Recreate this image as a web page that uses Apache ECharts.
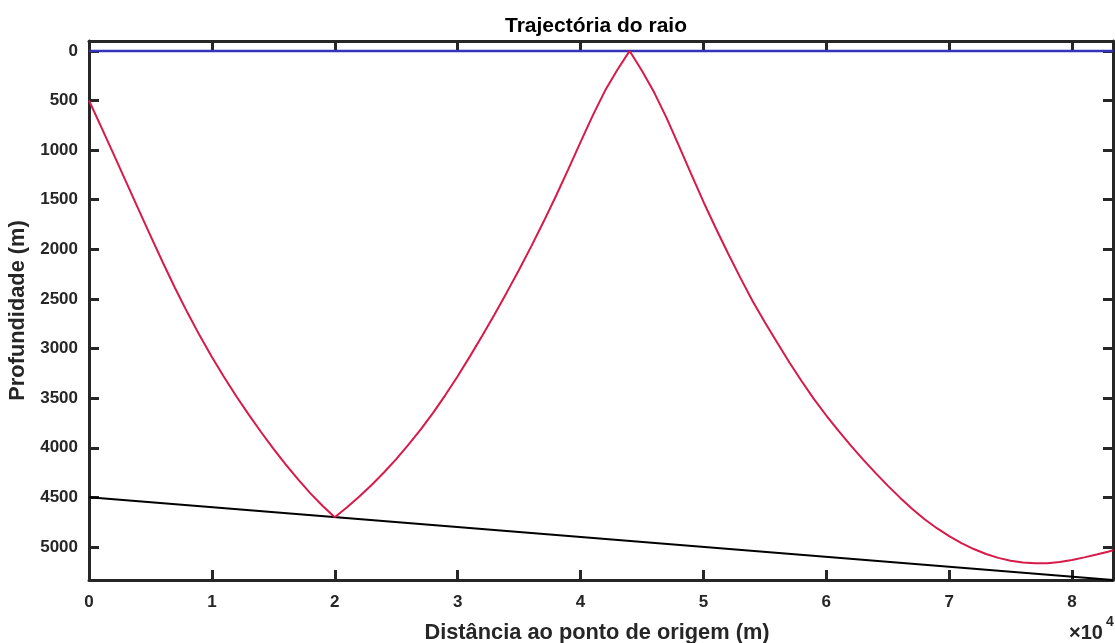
<!DOCTYPE html>
<html>
<head>
<meta charset="utf-8">
<title>Trajectória do raio</title>
<script src="https://cdn.jsdelivr.net/npm/echarts@6/dist/echarts.min.js"></script>
<style>
  html, body { margin: 0; padding: 0; background: #ffffff; }
  #chart { width: 1115px; height: 643px; }
</style>
</head>
<body>
<div id="chart"></div>
<script>
// Ray path, [range (m), depth (m)], one array per leg between reflections
const rayLeg1 = [
  [0, 500], [1000, 768], [2000, 1040], [3000, 1315], [4000, 1590], [5000, 1862],
  [6000, 2130], [7000, 2390], [8000, 2635], [9000, 2867], [10000, 3085],
  [11000, 3290], [12000, 3483], [13000, 3666], [14000, 3841], [15000, 4008],
  [16000, 4167], [17000, 4317], [18000, 4457], [19000, 4584], [20000, 4700]
];
const rayLeg2 = [
  [20000, 4700], [21000, 4600], [22000, 4492], [23000, 4375], [24000, 4249],
  [25000, 4114], [26000, 3969], [27000, 3814], [28000, 3649], [29000, 3469],
  [30000, 3279], [31000, 3079], [32000, 2871], [33000, 2656], [34000, 2434],
  [35000, 2206], [36000, 1968], [37000, 1720], [38000, 1462], [39000, 1194],
  [40000, 919], [41000, 650], [42000, 400], [43000, 190], [44000, 0]
];
const rayLeg3 = [
  [44000, 0], [45000, 200], [46000, 420], [47000, 675], [48000, 955],
  [49000, 1240], [50000, 1520], [51000, 1785], [52000, 2040], [53000, 2285],
  [54000, 2520], [55000, 2735], [56000, 2940], [57000, 3140], [58000, 3330],
  [59000, 3510], [60000, 3675], [61000, 3830], [62000, 3978], [63000, 4119],
  [64000, 4253], [65000, 4382], [66000, 4503], [67000, 4617], [68000, 4721],
  [69000, 4811], [70000, 4891], [71000, 4961], [72000, 5021], [73000, 5071],
  [74000, 5110], [75000, 5139], [76000, 5157], [77000, 5165], [78000, 5163],
  [79000, 5151], [80000, 5131], [81000, 5105], [82000, 5076], [83000, 5045],
  [83333, 5034]
];
// Sea surface and sloping bottom
const surfaceLine = [[0, 0], [83333, 0]];
const bottomLine = [[0, 4500], [83333, 5333]];

// Axis extents and tick values
const rangeMax = 83333;
const depthMin = -100;
const depthMax = 5333;
const rangeTicks = [0, 10000, 20000, 30000, 40000, 50000, 60000, 70000, 80000];
const depthTicks = [0, 500, 1000, 1500, 2000, 2500, 3000, 3500, 4000, 4500, 5000];

const axisColor = '#262626';
const fontFamily = '"Liberation Sans", Arial, Helvetica, sans-serif';

const chart = echarts.init(document.getElementById('chart'), null, { renderer: 'canvas' });

function xAxisDef(pos, showLabels) {
  return {
    type: 'value',
    position: pos,
    min: 0,
    max: rangeMax,
    splitLine: { show: false },
    axisLine: { show: true, onZero: false, lineStyle: { color: axisColor, width: 3 } },
    axisTick: { show: true, inside: true, length: 10, customValues: rangeTicks,
      lineStyle: { color: axisColor, width: 3 } },
    axisLabel: { show: showLabels, customValues: rangeTicks, margin: 14,
      formatter: v => String(v / 10000),
      color: axisColor, fontFamily, fontWeight: 'bold', fontSize: 17 },
    name: showLabels ? 'Distância ao ponto de origem (m)' : '',
    nameLocation: 'middle',
    nameGap: 42,
    nameTextStyle: { color: axisColor, fontFamily, fontWeight: 'bold', fontSize: 21.8,
      padding: [0, 8, 0, 0] }
  };
}

function yAxisDef(pos, showLabels) {
  return {
    type: 'value',
    position: pos,
    inverse: true,
    min: depthMin,
    max: depthMax,
    splitLine: { show: false },
    axisLine: { show: true, onZero: false, lineStyle: { color: axisColor, width: 3 } },
    axisTick: { show: true, inside: true, length: 10, customValues: depthTicks,
      lineStyle: { color: axisColor, width: 3 } },
    axisLabel: { show: showLabels, customValues: depthTicks, margin: 11,
      formatter: v => String(v),
      color: axisColor, fontFamily, fontWeight: 'bold', fontSize: 17 },
    name: showLabels ? 'Profundidade (m)' : '',
    nameLocation: 'middle',
    nameGap: 57,
    nameTextStyle: { color: axisColor, fontFamily, fontWeight: 'bold', fontSize: 21.8 }
  };
}

function lineSeries(data, color, width, z) {
  return {
    type: 'line',
    data: data,
    xAxisIndex: 0,
    yAxisIndex: 0,
    showSymbol: false,
    smooth: false,
    animation: false,
    z: z,
    lineStyle: { color: color, width: width }
  };
}

chart.setOption({
  animation: false,
  backgroundColor: '#ffffff',
  title: {
    text: 'Trajectória do raio',
    left: 591,
    textAlign: 'center',
    top: 11,
    textStyle: { color: '#000000', fontFamily, fontWeight: 'bold', fontSize: 21 }
  },
  grid: { left: 89, right: 2, top: 41, bottom: 63, containLabel: false, outerBoundsMode: 'none' },
  xAxis: [xAxisDef('bottom', true), xAxisDef('top', false)],
  yAxis: [yAxisDef('left', true), yAxisDef('right', false)],
  series: [
    lineSeries(surfaceLine, '#3434bb', 2.5, 2),
    lineSeries(bottomLine, '#000000', 2, 2),
    lineSeries(rayLeg1, '#d71a48', 2, 3),
    lineSeries(rayLeg2, '#d71a48', 2, 3),
    lineSeries(rayLeg3, '#d71a48', 2, 3)
  ],
  graphic: [{
    type: 'text',
    left: 1069,
    top: 615,
    style: {
      text: '{a|×10}{b|4}',
      rich: {
        a: { fontFamily, fontWeight: 'bold', fontSize: 20, fill: axisColor, padding: [8, 0, 0, 0] },
        b: { fontFamily, fontWeight: 'bold', fontSize: 14, fill: axisColor, verticalAlign: 'top',
          padding: [0, 0, 0, 3] }
      }
    }
  }]
});
</script>
</body>
</html>
